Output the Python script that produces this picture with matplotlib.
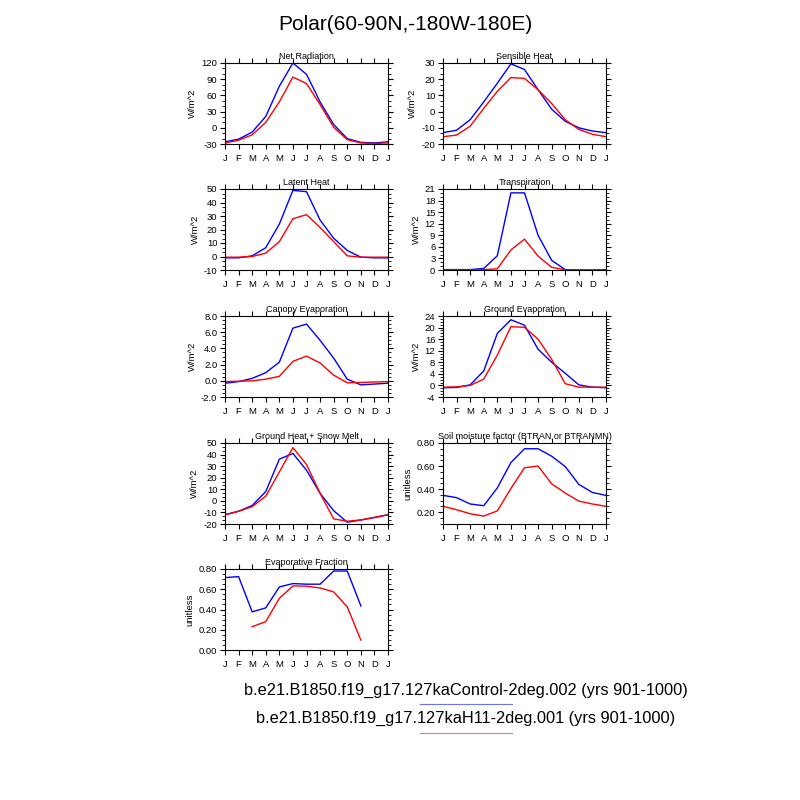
import numpy as np
import matplotlib
matplotlib.use("Agg")
import matplotlib.pyplot as plt
from matplotlib.ticker import AutoMinorLocator, FormatStrFormatter
from matplotlib.lines import Line2D

plt.rcParams['font.family'] = ['Liberation Sans', 'DejaVu Sans']
plt.rcParams['axes.unicode_minus'] = False

months = ["J", "F", "M", "A", "M", "J", "J", "A", "S", "O", "N", "D", "J"]
nan = np.nan

title = "Polar(60-90N,-180W-180E)"
case_ctrl = "b.e21.B1850.f19_g17.127kaControl-2deg.002 (yrs 901-1000)"
case_h11 = "b.e21.B1850.f19_g17.127kaH11-2deg.001 (yrs 901-1000)"

netrad_ctrl = [-26, -21, -8, 21, 77, 120, 99, 48, 6, -20, -27, -28, -26]
netrad_h11 = [-28, -23, -13, 10, 48, 94, 82, 43, 1, -22, -28, -29, -28]

sens_ctrl = [-13, -11.5, -5, 6, 17.5, 29.5, 26, 13.5, 1.5, -6, -10, -12, -13]
sens_h11 = [-15.5, -14.5, -9, 2, 12.5, 21, 20.5, 13.5, 5, -5, -11, -14, -15.5]

lat_ctrl = [-1, -1, 0.5, 6.5, 24, 49, 48, 27, 13.5, 4.5, -0.5, -1, -1]
lat_h11 = [-0.5, -0.5, 0, 2.5, 11, 28, 31, 21.5, 11, 0.5, -0.5, -0.5, -0.5]

tran_ctrl = [0.1, 0.1, 0.1, 0.4, 3.7, 20, 20, 9, 2.5, 0.1, 0.0, 0.0, 0.1]
tran_h11 = [0.0, 0.0, 0.0, 0.1, 0.3, 5.2, 8, 3.6, 0.7, 0.05, 0.0, 0.0, 0.0]

canev_ctrl = [-0.3, -0.1, 0.3, 1.0, 2.3, 6.5, 7.0, 5.0, 2.8, 0.2, -0.5, -0.4, -0.3]
canev_h11 = [-0.1, -0.05, 0.0, 0.2, 0.55, 2.4, 3.05, 2.2, 0.7, -0.25, -0.2, -0.15, -0.1]

grev_ctrl = [-0.8, -0.7, 0.2, 5, 18, 22.7, 20.8, 12.5, 8, 4.2, 0.2, -0.6, -0.8]
grev_h11 = [-0.6, -0.5, 0, 2.2, 10.5, 20.3, 20.1, 16, 9, 0.6, -0.6, -0.6, -0.6]

ghsm_ctrl = [-12, -9, -4, 8, 36, 41, 26.5, 6.5, -8.5, -18.5, -16.5, -14.5, -12]
ghsm_h11 = [-12, -9, -5, 4, 25, 46, 31.4, 6.5, -15.6, -17.6, -16.5, -14.2, -12]

btran_ctrl = [0.345, 0.325, 0.27, 0.255, 0.41, 0.63, 0.75, 0.75, 0.685, 0.595, 0.44, 0.37, 0.345]
btran_h11 = [0.25, 0.22, 0.185, 0.165, 0.21, 0.405, 0.585, 0.60, 0.445, 0.365, 0.295, 0.27, 0.25]

ef_ctrl = [0.715, 0.725, 0.377, 0.416, 0.623, 0.656, 0.65, 0.65, 0.78, 0.78, 0.436, nan, nan]
ef_h11 = [nan, nan, 0.23, 0.28, 0.51, 0.633, 0.63, 0.613, 0.574, 0.426, 0.098, nan, nan]

panels = [
    # title, ctrl, h11, ylabel, ymin, ymax, major, minor_div, fmt, col, row
    ("Net Radiation", netrad_ctrl, netrad_h11, "W/m^2", -30, 120, 30, 3, "%d", 0, 0),
    ("Sensible Heat", sens_ctrl, sens_h11, "W/m^2", -20, 30, 10, 3, "%d", 1, 0),
    ("Latent Heat", lat_ctrl, lat_h11, "W/m^2", -10, 50, 10, 3, "%d", 0, 1),
    ("Transpiration", tran_ctrl, tran_h11, "W/m^2", 0, 21, 3, 3, "%d", 1, 1),
    ("Canopy Evaporation", canev_ctrl, canev_h11, "W/m^2", -2, 8, 2, 4, "%.1f", 0, 2),
    ("Ground Evaporation", grev_ctrl, grev_h11, "W/m^2", -4, 24, 4, 4, "%d", 1, 2),
    ("Ground Heat + Snow Melt", ghsm_ctrl, ghsm_h11, "W/m^2", -20, 50, 10, 3, "%d", 0, 3),
    ("Soil moisture factor (BTRAN or BTRANMN)", btran_ctrl, btran_h11, "unitless", 0.096, 0.80, 0.2, 4, "%.2f", 1, 3),
    ("Evaporative Fraction", ef_ctrl, ef_h11, "unitless", 0.0, 0.80, 0.2, 4, "%.2f", 0, 4),
]

W = H = 800
fig = plt.figure(figsize=(8, 8), dpi=100)

col_x = [225, 443]
row_top = [63, 189, 316, 443, 569]
pw, ph = 163, 81

x = np.arange(len(months))

for (ttl, c, h, ylab, ymin, ymax, major, mdiv, fmt, col, row) in panels:
    left = col_x[col] / W
    bottom = 1 - (row_top[row] + ph) / H
    ax = fig.add_axes([left, bottom, pw / W, ph / H])
    ax.plot(x, c, color=(0, 0, 1), lw=1.0)
    ax.plot(x, h, color=(1, 0, 0), lw=1.0)
    ax.set_xlim(0, 12)
    ax.set_ylim(ymin, ymax)
    ax.set_xticks(x)
    ax.set_xticklabels(months)
    start = np.ceil(ymin / major - 1e-9) * major
    ticks = np.round(np.arange(start, ymax + major * 0.01, major), 6) + 0.0
    ax.set_yticks(ticks)
    ax.yaxis.set_major_formatter(FormatStrFormatter(fmt))
    ax.yaxis.set_minor_locator(AutoMinorLocator(mdiv))
    ax.tick_params(axis='both', which='major', direction='out', length=3.5, width=0.8,
                   labelsize=6.8, top=True, right=True, pad=2)
    ax.tick_params(axis='y', which='minor', direction='out', length=2, width=0.6,
                   right=True, left=True)
    ax.tick_params(axis='x', which='major', pad=4)
    for s in ax.spines.values():
        s.set_linewidth(0.8)
    ax.set_title(ttl, fontsize=6.5, pad=3)
    ax.set_ylabel(ylab, fontsize=6.8, labelpad=3)

fig.text(405 / W, 1 - 25 / H, title, ha='center', va='center', fontsize=15)
fig.text(466 / W, 1 - 690 / H, case_ctrl, ha='center', va='center', fontsize=11.8)
fig.text(466 / W, 1 - 718 / H, case_h11, ha='center', va='center', fontsize=11.8)

fig.add_artist(Line2D([420 / W, 512 / W], [1 - 704 / H, 1 - 704 / H], color='#7070ff',
                      lw=0.8, transform=fig.transFigure))
fig.add_artist(Line2D([420 / W, 512 / W], [1 - 733 / H, 1 - 733 / H], color='#ff7070',
                      lw=0.8, transform=fig.transFigure))

fig.savefig("out.png", dpi=100)
